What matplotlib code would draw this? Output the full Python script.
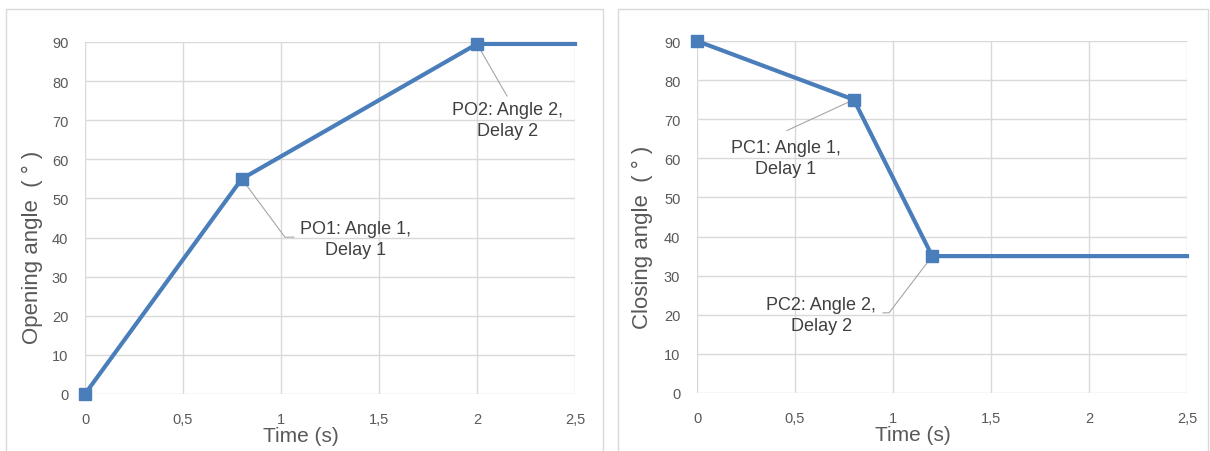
import matplotlib.pyplot as plt
from matplotlib.patches import Rectangle

plt.rcParams["font.family"] = ["Liberation Sans", "DejaVu Sans"]

# opening profile
open_t = [0, 0.8, 2.0, 2.5]
open_angle = [0, 55, 89.5, 89.5]
# closing profile
close_t = [0, 0.8, 1.2, 2.5]
close_angle = [90, 75, 35, 35]

x_ticks = [0, 0.5, 1, 1.5, 2, 2.5]
x_labels = ["0", "0,5", "1", "1,5", "2", "2,5"]
y_ticks = [0, 10, 20, 30, 40, 50, 60, 70, 80, 90]

blue = "#4A7EBB"
grid_c = "#D9D9D9"
tick_c = "#595959"
text_c = "#404040"
lead_c = "#A6A6A6"

fig = plt.figure(figsize=(12.1, 4.52), dpi=100)

# panel frames
fig.patches.append(Rectangle((6 / 1210, -0.05), 597 / 1210, 1.05 - 10 / 452,
                             transform=fig.transFigure, fill=False, ec=grid_c, lw=1))
fig.patches.append(Rectangle((618 / 1210, -0.05), 590 / 1210, 1.05 - 10 / 452,
                             transform=fig.transFigure, fill=False, ec=grid_c, lw=1))

ax1 = fig.add_axes([85 / 1210, 1 - 395 / 452, 490 / 1210, 352 / 452])
ax2 = fig.add_axes([697 / 1210, 1 - 394 / 452, 490 / 1210, 352 / 452])


def style(ax, ylabel, ylab_x, ylab_y):
    ax.set_xlim(0, 2.5)
    ax.set_ylim(0, 90)
    ax.set_xticks(x_ticks)
    ax.set_xticklabels(x_labels)
    ax.set_yticks(y_ticks)
    ax.grid(True, color=grid_c, lw=1)
    ax.set_axisbelow(True)
    for s in ax.spines.values():
        s.set_visible(False)
    ax.tick_params(length=0, labelsize=10.5, colors=tick_c)
    ax.tick_params(axis="x", pad=13)
    ax.tick_params(axis="y", pad=12)
    ax.set_xlabel("Time (s)", fontsize=15, color=tick_c)
    ax.set_ylabel(ylabel, fontsize=16, color=tick_c)
    ax.xaxis.set_label_coords(0.441, -0.09)
    ax.yaxis.set_label_coords(ylab_x, ylab_y)


style(ax1, "Opening angle  ( ° )", -0.086, 0.418)
style(ax2, "Closing angle  ( ° )", -0.09, 0.446)

ax1.plot(open_t, open_angle, color=blue, lw=3, clip_on=False, zorder=3)
ax1.plot(open_t[:3], open_angle[:3], "s", color=blue, ms=9, clip_on=False, zorder=4)
ax2.plot(close_t, close_angle, color=blue, lw=3, clip_on=False, zorder=3)
ax2.plot(close_t[:3], close_angle[:3], "s", color=blue, ms=9, clip_on=False, zorder=4)

# callouts
ax1.plot([0.8, 1.02, 1.066], [55, 40.1, 40.1], color=lead_c, lw=0.8, zorder=3)
ax1.text(1.378, 39.6, "PO1: Angle 1,\nDelay 1", ha="center", va="center",
         fontsize=13, color=text_c, linespacing=1.3)
ax1.plot([2.0, 2.153], [89.5, 76.2], color=lead_c, lw=0.8, zorder=3)
ax1.text(2.157, 70.0, "PO2: Angle 2,\nDelay 2", ha="center", va="center",
         fontsize=13, color=text_c, linespacing=1.3)

ax2.plot([0.8, 0.459], [75, 67.1], color=lead_c, lw=0.8, zorder=3)
ax2.text(0.454, 60.1, "PC1: Angle 1,\nDelay 1", ha="center", va="center",
         fontsize=13, color=text_c, linespacing=1.3)
ax2.plot([1.2, 0.98, 0.949], [35, 20.5, 20.5], color=lead_c, lw=0.8, zorder=3)
ax2.text(0.633, 19.9, "PC2: Angle 2,\nDelay 2", ha="center", va="center",
         fontsize=13, color=text_c, linespacing=1.3)

fig.savefig("out.png", dpi=100)
